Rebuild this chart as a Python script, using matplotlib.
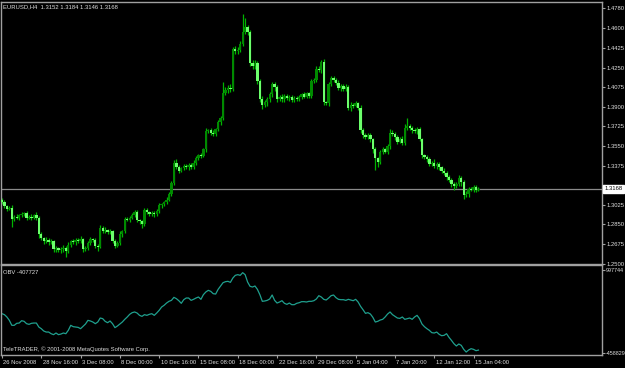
"""
EURUSD H4 candles with OBV sub-window, MetaTrader style
"""
import numpy as np
import matplotlib.pyplot as plt
import matplotlib.transforms as mtransforms

plt.rcParams['font.family'] = ['Liberation Sans', 'DejaVu Sans']

symbol_header = "EURUSD,H4  1.3152 1.3184 1.3146 1.3168"
obv_header = "OBV -407727"
copyright_txt = "TeleTRADER, \u00a9 2001-2008 MetaQuotes Software Corp."

first_open = 1.307
closes = [
    1.305, 1.301, 1.299, 1.300, 1.290, 1.292, 1.291, 1.293, 1.294, 1.295,
    1.291, 1.292, 1.291, 1.293, 1.291, 1.276, 1.273, 1.270, 1.271, 1.269,
    1.270, 1.263, 1.264, 1.262, 1.263, 1.264, 1.261, 1.267, 1.270, 1.269,
    1.271, 1.270, 1.272, 1.263, 1.264, 1.268, 1.272, 1.271, 1.266, 1.265,
    1.282, 1.279, 1.280, 1.278, 1.279, 1.270, 1.266, 1.268, 1.276, 1.279,
    1.290, 1.289, 1.291, 1.293, 1.296, 1.289, 1.288, 1.285, 1.298, 1.296,
    1.294, 1.295, 1.294, 1.297, 1.302, 1.303, 1.305, 1.307, 1.312, 1.322,
    1.340, 1.336, 1.333, 1.335, 1.337, 1.336, 1.338, 1.336, 1.340, 1.344,
    1.347, 1.346, 1.352, 1.368, 1.369, 1.367, 1.366, 1.370, 1.376, 1.380,
    1.402, 1.405, 1.407, 1.406, 1.442, 1.440, 1.441, 1.446, 1.457, 1.461,
    1.457, 1.429, 1.426, 1.429, 1.413, 1.397, 1.392, 1.394, 1.397, 1.401,
    1.410, 1.408, 1.397, 1.399, 1.397, 1.400, 1.398, 1.399, 1.396, 1.398,
    1.397, 1.399, 1.401, 1.399, 1.402, 1.400, 1.413, 1.414, 1.424, 1.423,
    1.430, 1.394, 1.393, 1.410, 1.416, 1.414, 1.411, 1.407, 1.409, 1.406,
    1.408, 1.389, 1.392, 1.391, 1.393, 1.389, 1.369, 1.365, 1.363, 1.365,
    1.361, 1.352, 1.344, 1.341, 1.350, 1.352, 1.350, 1.355, 1.367, 1.366,
    1.363, 1.359, 1.361, 1.358, 1.371, 1.373, 1.371, 1.369, 1.368, 1.370,
    1.361, 1.347, 1.345, 1.343, 1.339, 1.340, 1.337, 1.339, 1.336, 1.333,
    1.331, 1.327, 1.325, 1.321, 1.319, 1.321, 1.326, 1.323, 1.311, 1.312,
    1.317, 1.316, 1.318, 1.316, 1.3168,
]
# wick lengths in pips
wick_up = [
    15, 20, 12, 18, 25, 10, 20, 15, 22, 12, 18, 10, 25, 15, 30,
    12, 20, 10, 25, 15, 18, 12, 20, 10, 22, 30, 15, 25, 12, 18,
    15, 20, 28, 12, 18, 22, 15, 10, 20, 12, 20, 15, 25, 10, 18,
    12, 15, 20, 30, 10, 18, 12, 15, 25, 20, 14, 12, 10, 15, 20,
    12, 18, 15, 20, 25, 15, 12, 20, 18, 15, 25, 30, 20, 12, 18,
    15, 20, 14, 25, 18, 12, 20, 15, 30, 12, 25, 20, 15, 22, 18,
    100, 30, 25, 35, 15, 25, 20, 30, 158, 80, 25, 20, 30, 25, 20,
    15, 25, 20, 15, 20, 25, 18, 15, 12, 20, 15, 18, 12, 15, 20,
    12, 18, 15, 20, 14, 12, 20, 15, 25, 20, 20, 25, 15, 20, 18,
    15, 20, 25, 12, 18, 20, 15, 20, 12, 18, 15, 25, 20, 15, 18,
    20, 15, 25, 12, 18, 22, 15, 20, 30, 25, 15, 20, 18, 25, 40,
    70, 20, 15, 25, 18, 20, 15, 12, 20, 25, 15, 30, 15, 18, 12,
    20, 15, 25, 18, 22, 15, 30, 20, 15, 25, 18, 12, 20, 25, 15,
]
wick_dn = [
    20, 15, 25, 12, 73, 18, 15, 20, 12, 18, 25, 15, 20, 12, 18,
    30, 20, 25, 15, 20, 18, 25, 30, 20, 22, 25, 50, 15, 20, 18,
    20, 15, 12, 25, 20, 18, 15, 20, 25, 40, 15, 18, 20, 15, 12,
    20, 25, 15, 18, 20, 15, 12, 20, 15, 12, 18, 25, 30, 15, 20,
    15, 12, 20, 18, 15, 20, 12, 18, 15, 20, 15, 18, 25, 15, 12,
    18, 20, 15, 12, 20, 15, 18, 12, 20, 15, 25, 18, 20, 15, 20,
    20, 15, 25, 30, 20, 25, 30, 20, 15, 20, 25, 30, 20, 25, 30,
    25, 40, 20, 30, 25, 20, 35, 30, 15, 25, 30, 20, 25, 15, 20,
    18, 15, 20, 12, 15, 25, 20, 15, 18, 20, 25, 20, 15, 22, 18,
    20, 15, 18, 25, 20, 15, 20, 30, 18, 15, 20, 25, 30, 20, 18,
    25, 30, 100, 45, 20, 25, 15, 20, 25, 18, 30, 20, 15, 25, 20,
    15, 20, 25, 18, 20, 15, 30, 20, 25, 15, 20, 18, 25, 20, 18,
    15, 20, 18, 25, 30, 15, 20, 40, 30, 20, 25, 15, 20, 18, 15,
]
# on balance volume, thousands
obv_k = [
    231, 214, 173, 114, 27, 27, 62, 67, 108, 97, 56, 44, 62, 67, 67,
    -3, -32, -73, -91, -91, -120, -137, -108, -137, -126, -108, -120, -61, 27, 3,
    -3, -9, -32, 9, 50, 114, 103, 85, 56, 85, 155, 144, 97, 73, 103,
    56, -14, 15, 50, 85, 132, 173, 220, 249, 261, 243, 202, 184, 214, 202,
    220, 231, 202, 243, 290, 348, 378, 418, 448, 465, 518, 495, 459, 413, 477,
    506, 506, 465, 483, 506, 524, 483, 565, 612, 641, 623, 582, 576, 658, 717,
    775, 793, 799, 781, 857, 904, 916, 904, 951, 916, 787, 711, 699, 717, 658,
    565, 448, 454, 465, 489, 559, 465, 418, 436, 459, 413, 395, 418, 389, 389,
    413, 424, 442, 442, 436, 448, 448, 459, 489, 547, 524, 483, 471, 506, 547,
    559, 512, 483, 477, 477, 465, 483, 471, 459, 483, 436, 360, 301, 237, 249,
    225, 167, 85, 97, 120, 132, 173, 225, 261, 214, 184, 155, 149, 173, 132,
    144, 155, 132, 173, 202, 144, 50, 3, -32, -61, -102, -108, -91, -131, -155,
    -149, -120, -184, -237, -295, -336, -301, -325, -395, -442, -406, -383, -395, -418, -407.727,
]
date_labels = ["26 Nov 2008", "28 Nov 16:00", "3 Dec 08:00", "8 Dec 00:00",
               "10 Dec 16:00", "15 Dec 08:00", "18 Dec 00:00", "22 Dec 16:00",
               "29 Dec 08:00", "5 Jan 04:00", "7 Jan 20:00", "12 Jan 12:00",
               "15 Jan 04:00"]
price_ticks = [1.2500, 1.2675, 1.2850, 1.3025, 1.3200, 1.3375, 1.3550, 1.3725,
               1.3900, 1.4075, 1.4250, 1.4425, 1.4600, 1.4780]
obv_ticks = [997744, -458829]
last_price = 1.3168

BULL = '#008a00'
BEAR = '#6cff6c'
WICK = '#00b400'
FRAME = '#a0a0a0'
TXT = '#e0e0e0'
FS = 4.2

closes = np.array(closes)
opens = np.concatenate([[first_open], closes[:-1]])
hi = np.maximum(opens, closes) + np.array(wick_up) * 0.0001
lo = np.minimum(opens, closes) - np.array(wick_dn) * 0.0001
idx = np.arange(len(closes))
up = closes >= opens

fig = plt.figure(figsize=(6.25, 3.68), dpi=100, facecolor='black')
W, H = 625.0, 368.0
ax = fig.add_axes([1 / W, 1 - 264 / H, 601 / W, 262 / H], facecolor='black')
ax2 = fig.add_axes([1 / W, 1 - 355 / H, 601 / W, 90 / H], facecolor='black')

# candles
ax.vlines(idx, lo, hi, color=WICK, lw=0.9, zorder=2)
body_lo = np.minimum(opens, closes)
body_h = np.maximum(np.abs(closes - opens), 0.0004)
ax.bar(idx[up], body_h[up], bottom=body_lo[up], width=0.95, color=BULL, lw=0, zorder=3)
ax.bar(idx[~up], body_h[~up], bottom=body_lo[~up], width=0.95, color=BEAR, lw=0, zorder=3)
ax.axhline(last_price, color='#8a8a8a', lw=0.9, zorder=1)

ax.set_xlim(-0.4, 244.3)
ax.set_ylim(1.2496, 1.4836)
ax2.set_xlim(-0.4, 244.3)
ax2.set_ylim(-493927, 1085489)

ax2.plot(idx, np.array(obv_k) * 1000, color='#1fa08e', lw=0.9)

for a in (ax, ax2):
    for s in a.spines.values():
        s.set_color(FRAME)
        s.set_linewidth(1.0)
    a.yaxis.tick_right()
    a.tick_params(axis='y', direction='out', length=2, width=0.8, color=FRAME,
                  labelcolor=TXT, labelsize=FS, pad=1)
ax2.tick_params(axis='y', labelsize=3.9, pad=0.5)

ax.set_xticks([])
ax.set_yticks(price_ticks)
# 1.3200 sits under the current price box
ax.set_yticklabels(['' if p == 1.3200 else '%.4f' % p for p in price_ticks])

ax2.set_yticks(obv_ticks)
ax2.set_yticklabels([str(v) for v in obv_ticks])
ax2.set_xticks(idx[::16])
ax2.set_xticklabels(date_labels, ha='left')
ax2.tick_params(axis='x', direction='out', length=2, width=0.8, color=FRAME,
                labelcolor=TXT, labelsize=FS, pad=1.5)
shift = mtransforms.ScaledTranslation(1.5 / 100, 0, fig.dpi_scale_trans)
for lab in ax2.get_xticklabels():
    lab.set_transform(lab.get_transform() + shift)

# current price marker
trans = mtransforms.blended_transform_factory(ax.transAxes, ax.transData)
ax.text(1.004, last_price, '%.4f' % last_price, transform=trans, fontsize=FS,
        color='black', ha='left', va='center', zorder=10, clip_on=False,
        bbox=dict(boxstyle='square,pad=0.25', fc='white', ec='white'))

ax.text(0.004, 0.99, symbol_header, transform=ax.transAxes, fontsize=FS,
        color=TXT, ha='left', va='top')
ax2.text(0.004, 0.95, obv_header, transform=ax2.transAxes, fontsize=FS,
         color=TXT, ha='left', va='top')
ax2.text(0.004, 0.03, copyright_txt, transform=ax2.transAxes, fontsize=FS,
         color=TXT, ha='left', va='bottom')

fig.savefig('out.png', dpi=100, facecolor='black')
